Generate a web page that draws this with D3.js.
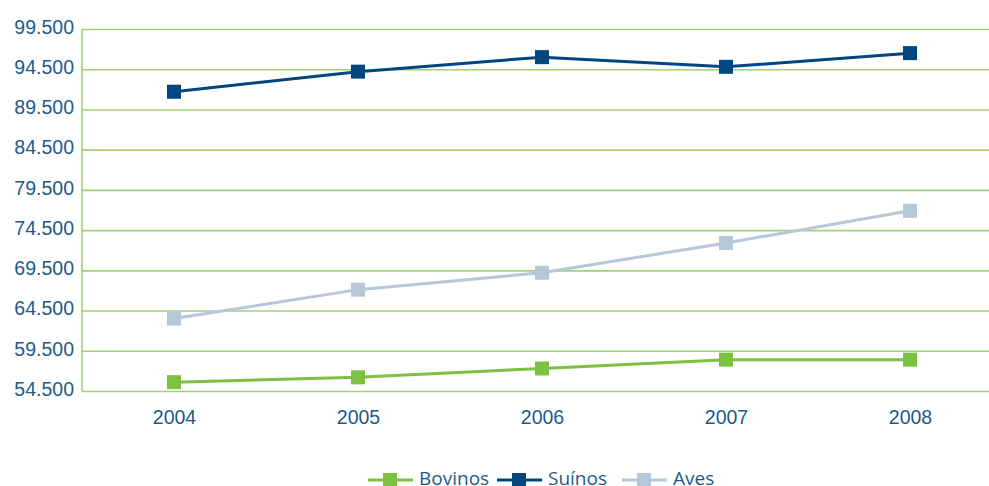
<!DOCTYPE html>
<html>
<head>
<meta charset="utf-8">
<script src="https://cdn.jsdelivr.net/npm/d3@7"></script>
<style>
  body { margin: 0; background: #fff; }
  svg { display: block; }
  .axis text { font-family: "Liberation Sans", Arial, sans-serif; font-size: 19.5px; fill: #1d5a8c; }
  .legend text { font-family: "Open Sans", "Noto Sans", sans-serif; font-size: 19px; fill: #1d5a8c; }
</style>
</head>
<body>
<div id="chart"></div>
<script>
var years = ["2004", "2005", "2006", "2007", "2008"];
var bovinos = [55600, 56200, 57300, 58400, 58400];
var suinos = [91700, 94200, 96000, 94800, 96500];
var aves = [63500, 67100, 69200, 72900, 76900];
var yTicks = [54500, 59500, 64500, 69500, 74500, 79500, 84500, 89500, 94500, 99500];

var seriesNames = ["Bovinos", "Suínos", "Aves"];
var seriesValues = [bovinos, suinos, aves];
var seriesColors = ["#7dc142", "#00467f", "#b5c7d9"];

var width = 989, height = 486;
var plotLeft = 82, plotRight = 1002, plotTop = 29, plotBottom = 391;

var locale = d3.formatLocale({ decimal: ",", thousands: ".", grouping: [3], currency: ["", ""] });
var fmt = locale.format(",");

var svg = d3.select("#chart").append("svg")
    .attr("width", width)
    .attr("height", height);

var x = d3.scalePoint().domain(years).range([plotLeft, plotRight]).padding(0.5);
var y = d3.scaleLinear().domain([54500, 99500]).range([plotBottom, plotTop]);

// gridlines
svg.append("g")
    .attr("class", "grid")
    .attr("transform", "translate(" + plotLeft + ",0)")
    .call(d3.axisLeft(y).tickValues(yTicks).tickSize(-(plotRight - plotLeft)).tickFormat(""))
    .call(function (g) { g.select(".domain").remove(); })
    .selectAll("line")
    .attr("stroke", "#9fd273")
    .attr("stroke-width", 1.6);

// left axis line
svg.append("line")
    .attr("x1", plotLeft).attr("x2", plotLeft)
    .attr("y1", y(99500)).attr("y2", y(54500))
    .attr("stroke", "#9fd273")
    .attr("stroke-width", 1.6);

// y tick labels
svg.append("g")
    .attr("class", "axis axis--y")
    .attr("transform", "translate(" + (plotLeft - 8) + ",-2)")
    .call(d3.axisLeft(y).tickValues(yTicks).tickSize(0).tickPadding(0).tickFormat(fmt))
    .call(function (g) { g.select(".domain").remove(); });

// x tick labels
svg.append("g")
    .attr("class", "axis axis--x")
    .attr("transform", "translate(0," + plotBottom + ")")
    .call(d3.axisBottom(x).tickSize(0).tickPadding(19))
    .call(function (g) { g.select(".domain").remove(); });

var line = d3.line()
    .x(function (d, i) { return x(years[i]); })
    .y(function (d) { return y(d); });

// draw series: lines first, then markers
[2, 0, 1].forEach(function (s) {
    svg.append("path")
        .datum(seriesValues[s])
        .attr("fill", "none")
        .attr("stroke", seriesColors[s])
        .attr("stroke-width", 3)
        .attr("d", line);
});
[2, 0, 1].forEach(function (s) {
    svg.append("g").selectAll("rect")
        .data(seriesValues[s])
        .enter().append("rect")
        .attr("x", function (d, i) { return x(years[i]) - 7; })
        .attr("y", function (d) { return y(d) - 7; })
        .attr("width", 14)
        .attr("height", 14)
        .attr("fill", seriesColors[s]);
});

// legend
var legendX = [368, 497, 622];
var legendY = 480;
var legend = svg.append("g").attr("class", "legend");
seriesNames.forEach(function (name, i) {
    var g = legend.append("g").attr("transform", "translate(" + legendX[i] + "," + legendY + ")");
    g.append("line")
        .attr("x1", 0).attr("x2", 45)
        .attr("stroke", seriesColors[i])
        .attr("stroke-width", 3);
    g.append("rect")
        .attr("x", 15).attr("y", -7)
        .attr("width", 14).attr("height", 14)
        .attr("fill", seriesColors[i]);
    g.append("text")
        .attr("x", 51)
        .attr("y", 5)
        .text(name);
});
</script>
</body>
</html>
